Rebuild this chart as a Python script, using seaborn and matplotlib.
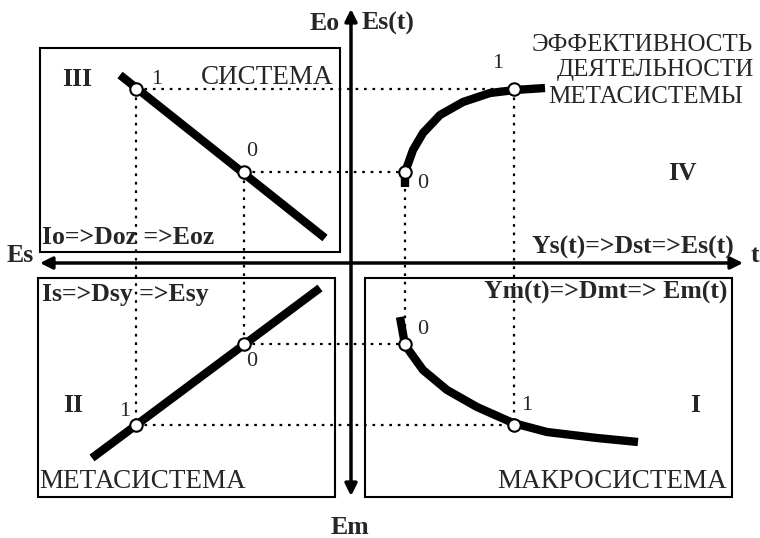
"""
Four-quadrant efficiency diagram (system / metasystem / macrosystem)
Coordinates are in diagram units with the origin at the axis crossing
"""
import numpy as np
import pandas as pd
import matplotlib
matplotlib.use('Agg')
import matplotlib.pyplot as plt
from matplotlib.patches import Rectangle
import seaborn as sns

sns.set_theme(style='white')
plt.rcParams['font.family'] = ['Liberation Serif', 'DejaVu Serif']

# --- curve data ---
# quadrant III (system): straight falling line
line3_x = [-231, -26]
line3_y = [189, 26]
# quadrant II (metasystem): straight rising line
line2_x = [-259, -31]
line2_y = [-194, -24]
# quadrant IV: Es(t) saturating curve
curve4_x = [54, 54, 57, 62, 72, 89, 112, 139, 164, 194]
curve4_y = [77, 92, 100, 114, 131, 149, 162, 171, 174, 176]
# quadrant I: Em(t) decaying curve
curve1_x = [49, 54, 72, 96, 126, 162, 196, 246, 287]
curve1_y = [-53, -81, -106, -126, -143, -159, -168, -174, -178]

# projection levels of the marked points "0" and "1"
left_1, left_0 = -215, -107
right_0, right_1 = 54, 163
top_1, top_0 = 175, 92
bot_0, bot_1 = -80, -161

points_x = [left_1, left_0, right_0, right_1, left_0, left_1, right_0, right_1]
points_y = [top_1, top_0, top_0, top_1, bot_0, bot_1, bot_0, bot_1]

# dotted projection lines: pairs of point indices
links = [(0, 3), (1, 2), (0, 5), (1, 4), (2, 6), (3, 7), (4, 6), (5, 7)]

fig = plt.figure(figsize=(7.6, 5.38), dpi=100)
ax = fig.add_axes([0, 0, 1, 1])
ax.set_xlim(-351, 409)
ax.set_ylim(-274, 264)
ax.axis('off')

# frames around quadrants III, II, I
for x0, y0, w, h in [(-311, 12, 300, 204), (-313, -233, 297, 219), (14, -233, 367, 219)]:
    ax.add_patch(Rectangle((x0, y0), w, h, fill=False, edgecolor='black', linewidth=1.5))

# main axes with arrows on both ends
ax.annotate('', xy=(0, 255), xytext=(0, -232),
            arrowprops=dict(arrowstyle='<|-|>', lw=2.5, color='black', mutation_scale=18,
                            shrinkA=0, shrinkB=0))
ax.annotate('', xy=(392, 1), xytext=(-311, 1),
            arrowprops=dict(arrowstyle='<|-|>', lw=2.5, color='black', mutation_scale=18,
                            shrinkA=0, shrinkB=0))

# dotted projections
for i, j in links:
    ax.plot([points_x[i], points_x[j]], [points_y[i], points_y[j]],
            color='black', linestyle=(0, (1.2, 2.6)), linewidth=1.6, zorder=2)

# thick characteristic curves
for cx, cy in [(line3_x, line3_y), (line2_x, line2_y), (curve4_x, curve4_y), (curve1_x, curve1_y)]:
    df = pd.DataFrame({'x': cx, 'y': cy})
    sns.lineplot(data=df, x='x', y='y', sort=False, estimator=None, color='black',
                 linewidth=6, solid_capstyle='butt', ax=ax, zorder=3)

sns.scatterplot(x=points_x, y=points_y, s=80, color='white', edgecolor='black',
                linewidth=1.5, ax=ax, zorder=5)
ax.set_xlim(-351, 409)
ax.set_ylim(-274, 264)
ax.set_xlabel('')
ax.set_ylabel('')

bold = dict(fontsize=18.5, fontweight='bold', va='center')
norm = dict(fontsize=19.5, va='center')
title = dict(fontsize=18, va='center', ha='left')
digit = dict(fontsize=16, va='center', ha='center')

ax.text(-26, 241, 'Eo', ha='center', **bold)
ax.text(11, 241, 'Es(t)', ha='left', **bold)
ax.text(-1, -263, 'Em', ha='center', **bold)
ax.text(-344, 9, 'Es', ha='left', **bold)
ax.text(404, 9, 't', ha='center', **bold)

ax.text(-289, 184, 'III', ha='left', **bold)
ax.text(-18, 187, 'СИСТЕМА', ha='right', **norm)
ax.text(-309, 27, 'Io=>Doz =>Eoz', ha='left', **bold)

# block title in quadrant IV
ax.text(181, 219, 'ЭФФЕКТИВНОСТЬ', **title)
ax.text(206, 194, 'ДЕЯТЕЛЬНОСТИ', **title)
ax.text(197, 167, 'МЕТАСИСТЕМЫ', **title)
ax.text(331, 91, 'IV', ha='center', **bold)
ax.text(181, 17, 'Ys(t)=>Dst=>Es(t)', ha='left', **bold)

ax.text(-309, -31, 'Is=>Dsy =>Esy', ha='left', **bold)
ax.text(-288, -141, 'II', ha='left', **bold)
ax.text(-312, -218, 'МЕТАСИСТЕМА', ha='left', **norm)

ax.text(376, -28, 'Ym(t)=>Dmt=> Em(t)', ha='right', **bold)
ax.text(344, -141, 'I', ha='center', **bold)
ax.text(376, -218, 'МАКРОСИСТЕМА', ha='right', **norm)

# point labels
ax.text(-194, 185, '1', **digit)
ax.text(-99, 112, '0', **digit)
ax.text(147, 201, '1', **digit)
ax.text(72, 81, '0', **digit)
ax.text(-99, -98, '0', **digit)
ax.text(-226, -148, '1', **digit)
ax.text(72, -66, '0', **digit)
ax.text(176, -141, '1', **digit)

fig.savefig('out.png', dpi=100)
plt.close(fig)
